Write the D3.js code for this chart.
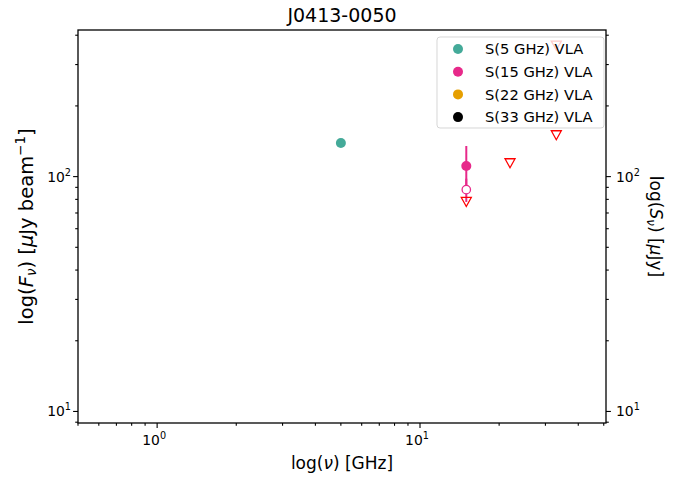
<!DOCTYPE html>
<html>
<head>
<meta charset="utf-8">
<script src="https://cdn.jsdelivr.net/npm/d3@7"></script>
<style>
  body { margin: 0; background: #fff; }
  text { font-family: "DejaVu Sans", sans-serif; fill: #000; }
</style>
</head>
<body>
<svg id="chart" width="688" height="481"></svg>
<script>
// data
const titleText = 'J0413-0050'
const xDomain = [0.5, 51]
const yDomain = [8.93, 421]
const xMajorTicks = [1, 10]
const yMajorTicks = [10, 100]

// detections (filled circles with error bars)
const detFreq = [5, 15]
const detFlux = [139, 111]
const detErr = [0, 24]
const detColor = ['#44AA99', '#E7298A']

// open circle point at 15 GHz
const openFreq = [15]
const openFlux = [88]
const openErr = [10]
const openColor = ['#E7298A']

// upper limits (open down triangles)
const limFreq = [15, 22, 33, 33]
const limFlux = [78, 114, 150, 361]

const legendLabels = ['S(5 GHz) VLA', 'S(15 GHz) VLA', 'S(22 GHz) VLA', 'S(33 GHz) VLA']
const legendColors = ['#44AA99', '#E7298A', '#E69F00', '#000000']

const W = 688, H = 481
const margin = { top: 30, right: 82, bottom: 58, left: 78 }
const iw = W - margin.left - margin.right
const ih = H - margin.top - margin.bottom

const svg = d3.select('#chart')
const g = svg.append('g').attr('transform', `translate(${margin.left},${margin.top})`)

const x = d3.scaleLog().domain(xDomain).range([0, iw])
const y = d3.scaleLog().domain(yDomain).range([ih, 0])

// minor ticks for a log axis inside the domain
const minorTicks = (domain, majors) => {
  const out = []
  for (let e = -2; e <= 4; e++) {
    for (let m = 1; m < 10; m++) {
      const v = m * Math.pow(10, e)
      if (v >= domain[0] && v <= domain[1] && !majors.includes(v)) out.push(v)
    }
  }
  return out
}
const xMinor = minorTicks(xDomain, xMajorTicks)
const yMinor = minorTicks(yDomain, yMajorTicks)

const supLabel = (sel, d) => {
  const e = Math.round(Math.log10(d))
  sel.text(null)
  sel.append('tspan').text('10')
  sel.append('tspan').attr('dy', -6).attr('font-size', '9.7px').text(e)
}

const tickStroke = (sel) => sel.attr('stroke', '#000').attr('stroke-width', 1.1)

// x ticks
const xt = g.append('g').attr('transform', `translate(0,${ih})`)
xt.selectAll('line.major').data(xMajorTicks).enter().append('line')
  .attr('x1', (d) => x(d)).attr('x2', (d) => x(d)).attr('y1', 0).attr('y2', 4.9).call(tickStroke)
xt.selectAll('line.minor').data(xMinor).enter().append('line')
  .attr('x1', (d) => x(d)).attr('x2', (d) => x(d)).attr('y1', 0).attr('y2', 2.8).call(tickStroke)
xt.selectAll('text').data(xMajorTicks).enter().append('text')
  .attr('x', (d) => x(d) - 3).attr('y', 22).attr('text-anchor', 'middle').attr('font-size', '13.9px')
  .each(function (d) { supLabel(d3.select(this), d) })

// y ticks on both sides
const sides = [{ dx: 0, dir: -1, anchor: 'end' }, { dx: iw, dir: 1, anchor: 'start' }]
sides.forEach((s) => {
  const yt = g.append('g').attr('transform', `translate(${s.dx},0)`)
  yt.selectAll('line.major').data(yMajorTicks).enter().append('line')
    .attr('x1', 0).attr('x2', 4.9 * s.dir).attr('y1', (d) => y(d)).attr('y2', (d) => y(d)).call(tickStroke)
  yt.selectAll('line.minor').data(yMinor).enter().append('line')
    .attr('x1', 0).attr('x2', 2.8 * s.dir).attr('y1', (d) => y(d)).attr('y2', (d) => y(d)).call(tickStroke)
  yt.selectAll('text').data(yMajorTicks).enter().append('text')
    .attr('x', s.dir < 0 ? -7 : 10).attr('y', (d) => y(d) + 5).attr('text-anchor', s.anchor)
    .attr('font-size', '13.9px')
    .each(function (d) { supLabel(d3.select(this), d) })
})

// error bars
g.selectAll('line.det-err').data(detFreq.map((f, i) => i).filter((i) => detErr[i] > 0)).enter().append('line')
  .attr('x1', (i) => x(detFreq[i])).attr('x2', (i) => x(detFreq[i]))
  .attr('y1', (i) => y(detFlux[i] + detErr[i])).attr('y2', (i) => y(detFlux[i] - detErr[i]))
  .attr('stroke', (i) => detColor[i]).attr('stroke-width', 2)
g.selectAll('line.open-err').data(openFreq.map((f, i) => i)).enter().append('line')
  .attr('x1', (i) => x(openFreq[i])).attr('x2', (i) => x(openFreq[i]))
  .attr('y1', (i) => y(openFlux[i] + openErr[i])).attr('y2', (i) => y(openFlux[i] - openErr[i]))
  .attr('stroke', (i) => openColor[i]).attr('stroke-width', 2)

// upper limit triangles
const tri = (cx, cy) => `M${cx - 5},${cy - 4.5}L${cx + 5},${cy - 4.5}L${cx},${cy + 4.5}Z`
g.selectAll('path.lim').data(limFreq.map((f, i) => i)).enter().append('path')
  .attr('d', (i) => tri(x(limFreq[i]), y(limFlux[i])))
  .attr('fill', 'none').attr('stroke', '#ff0000').attr('stroke-width', 1.3)

// open circle
g.selectAll('circle.open').data(openFreq.map((f, i) => i)).enter().append('circle')
  .attr('cx', (i) => x(openFreq[i])).attr('cy', (i) => y(openFlux[i])).attr('r', 4.2)
  .attr('fill', '#fff').attr('stroke', (i) => openColor[i]).attr('stroke-width', 1.3)

// filled circles
g.selectAll('circle.det').data(detFreq.map((f, i) => i)).enter().append('circle')
  .attr('cx', (i) => x(detFreq[i])).attr('cy', (i) => y(detFlux[i])).attr('r', 5)
  .attr('fill', (i) => detColor[i])

// frame
g.append('rect').attr('width', iw).attr('height', ih)
  .attr('fill', 'none').attr('stroke', '#000').attr('stroke-width', 1.3)

// legend
const lg = g.append('g').attr('transform', `translate(${iw - 169},7)`)
lg.append('rect').attr('width', 167).attr('height', 91).attr('rx', 3)
  .attr('fill', '#fff').attr('fill-opacity', 0.8).attr('stroke', '#ccc').attr('stroke-opacity', 0.8)
const rows = lg.selectAll('g.row').data(legendLabels).enter().append('g')
  .attr('transform', (d, i) => `translate(0,${12 + i * 22.7})`)
rows.append('circle').attr('cx', 21).attr('cy', 0).attr('r', 5).attr('fill', (d, i) => legendColors[i])
rows.append('text').attr('x', 48).attr('y', 5.2).attr('font-size', '14.7px').text((d) => d)

// title
svg.append('text').attr('x', margin.left + iw / 2).attr('y', 22).attr('text-anchor', 'middle')
  .attr('font-size', '19px').text(titleText)

// x label
const xl = svg.append('text').attr('x', margin.left + iw / 2).attr('y', 469).attr('text-anchor', 'middle')
  .attr('font-size', '17px')
xl.append('tspan').text('log(')
xl.append('tspan').attr('font-style', 'italic').text('ν')
xl.append('tspan').text(') [GHz]')

// left y label
const yl = svg.append('text').attr('transform', `translate(33,${margin.top + ih / 2}) rotate(-90)`)
  .attr('text-anchor', 'middle').attr('font-size', '19.5px')
yl.append('tspan').text('log(')
yl.append('tspan').attr('font-style', 'italic').text('F')
yl.append('tspan').attr('font-style', 'italic').attr('font-size', '13.5px').attr('dy', 3).text('ν')
yl.append('tspan').attr('dy', -3).text(') [')
yl.append('tspan').attr('font-style', 'italic').text('μ')
yl.append('tspan').text('Jy beam')
yl.append('tspan').attr('font-size', '13.5px').attr('dy', -8).text('−1')
yl.append('tspan').attr('dy', 8).text(']')

// right y label
const yr = svg.append('text').attr('transform', `translate(650,${margin.top + ih / 2}) rotate(90)`)
  .attr('text-anchor', 'middle').attr('font-size', '17px')
yr.append('tspan').text('log(')
yr.append('tspan').attr('font-style', 'italic').text('S')
yr.append('tspan').attr('font-style', 'italic').attr('font-size', '12px').attr('dy', 3).text('ν')
yr.append('tspan').attr('dy', -3).text(') [')
yr.append('tspan').attr('font-style', 'italic').text('μ')
yr.append('tspan').text('Jy]')
</script>
</body>
</html>
